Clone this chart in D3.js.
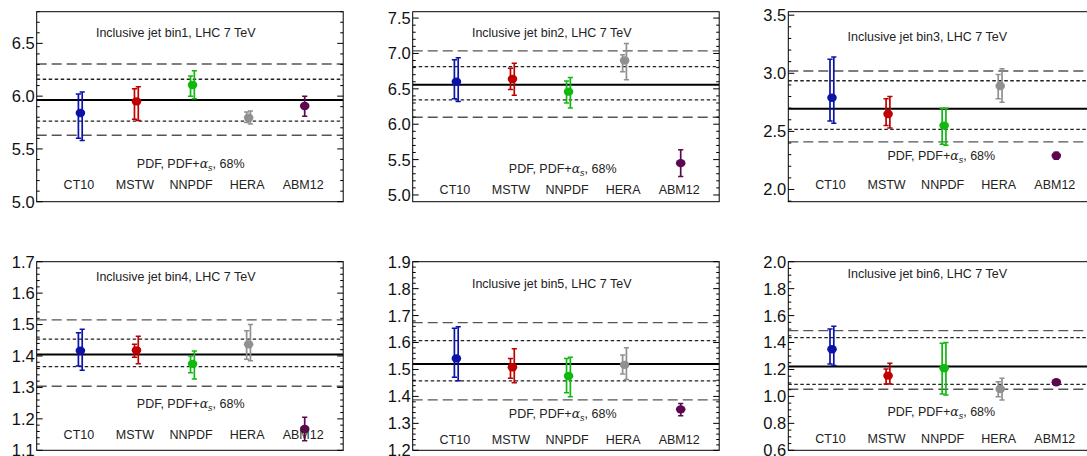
<!DOCTYPE html>
<html><head><meta charset="utf-8">
<script src="https://cdn.jsdelivr.net/npm/d3@7"></script>
<style>
html,body{margin:0;padding:0;background:#fff;}
svg{display:block;font-family:"Liberation Sans",Arial,Helvetica,sans-serif;}
</style>
</head><body>
<svg id="chart" width="1087" height="456"></svg>
<script>
// ---------- data ----------
const categories = ["CT10", "MSTW", "NNPDF", "HERA", "ABM12"];
const binTitles = ["Inclusive jet bin1, LHC 7 TeV", "Inclusive jet bin2, LHC 7 TeV", "Inclusive jet bin3, LHC 7 TeV",
                   "Inclusive jet bin4, LHC 7 TeV", "Inclusive jet bin5, LHC 7 TeV", "Inclusive jet bin6, LHC 7 TeV"];
const yDomains = [[5.0, 6.8], [4.905, 7.59], [1.895, 3.53], [1.1, 1.7], [1.2, 1.9], [0.6, 2.0]];
const majorStep = [0.5, 0.5, 0.5, 0.1, 0.1, 0.2];
const minorStep = [0.1, 0.1, 0.1, 0.02, 0.02, 0.05];

const centralLine = [5.963, 6.556, 2.695, 1.405, 1.520, 1.222];
const innerBandLo = [5.764, 6.344, 2.518, 1.366, 1.458, 1.090];
const innerBandHi = [6.160, 6.815, 2.936, 1.454, 1.607, 1.436];
const outerBandLo = [5.630, 6.099, 2.410, 1.304, 1.387, 1.053];
const outerBandHi = [6.304, 7.037, 3.020, 1.515, 1.674, 1.488];

const central = [
  [5.84, 5.95, 6.105, 5.795, 5.906],
  [6.60, 6.64, 6.46, 6.90, 5.45],
  [2.79, 2.65, 2.55, 2.89, 2.29],
  [1.417, 1.418, 1.375, 1.437, 1.168],
  [1.541, 1.508, 1.476, 1.517, 1.352],
  [1.35, 1.154, 1.209, 1.055, 1.105]
];
const pdfLo = [
  [5.60, 5.78, 6.00, 5.75, 5.81],
  [6.36, 6.49, 6.30, 6.74, 5.26],
  [2.59, 2.55, 2.39, 2.78, 2.26],
  [1.368, 1.396, 1.347, 1.39, 1.13],
  [1.471, 1.467, 1.414, 1.483, 1.328],
  [1.24, 1.092, 1.018, 0.998, 1.095]
];
const pdfHi = [
  [6.02, 6.07, 6.19, 5.85, 6.00],
  [6.91, 6.79, 6.61, 6.98, 5.64],
  [3.12, 2.78, 2.70, 2.99, 2.32],
  [1.474, 1.437, 1.40, 1.48, 1.205],
  [1.653, 1.541, 1.541, 1.554, 1.374],
  [1.50, 1.203, 1.394, 1.109, 1.115]
];
const pdfAsLo = [
  [5.58, 5.77, 5.975, 5.735, 5.81],
  [6.32, 6.41, 6.23, 6.63, 5.26],
  [2.57, 2.53, 2.38, 2.75, 2.26],
  [1.355, 1.375, 1.327, 1.385, 1.13],
  [1.458, 1.451, 1.399, 1.463, 1.328],
  [1.23, 1.092, 1.01, 0.973, 1.095]
];
const pdfAsHi = [
  [6.04, 6.09, 6.24, 5.86, 6.00],
  [6.94, 6.86, 6.66, 7.14, 5.64],
  [3.14, 2.80, 2.70, 3.04, 2.32],
  [1.485, 1.463, 1.416, 1.50, 1.205],
  [1.659, 1.577, 1.545, 1.581, 1.374],
  [1.52, 1.246, 1.40, 1.134, 1.115]
];
const colors = ["#0a12a8", "#c00000", "#10b810", "#909090", "#5c0850"];

// ---------- layout ----------
const colLeft = [36.7, 412.7, 788.3];
const rowTop = [11.7, 261.7];
const panelW = 306.5;
const panelH = [190, 188.6];
const titleDy = [21.3, 21.3, 25, 15, 21.6, 11.6];
const noteDy = [38.4, 33.4, 46, 46.3, 37, 38.6];
const noteDx = [154, 150, 153, 154, 150, 153];
const catDy = [16.7, 11.7, 16.7, 15.3, 10.3, 12];

const svg = d3.select("#chart");

binTitles.forEach((title, p) => {
  const row = Math.floor(p / 3), col = p % 3;
  const W = panelW, H = panelH[row];
  const g = svg.append("g").attr("transform", `translate(${colLeft[col]},${rowTop[row]})`);
  const clipId = "clip" + p;
  g.append("clipPath").attr("id", clipId).append("rect").attr("width", W).attr("height", H);

  const y = d3.scaleLinear().domain(yDomains[p]).range([H, 0]);
  const x = d3.scalePoint().domain(categories).range([43.7, 268]);

  const plot = g.append("g").attr("clip-path", `url(#${clipId})`);

  // bands
  const hline = (v, dash, color, w) => plot.append("line")
      .attr("x1", 0).attr("x2", W).attr("y1", y(v)).attr("y2", y(v))
      .attr("stroke", color).attr("stroke-width", w).attr("stroke-dasharray", dash);
  hline(outerBandHi[p], "10,5", "#555", 1.4);
  hline(outerBandLo[p], "10,5", "#555", 1.4);
  hline(innerBandHi[p], "3.5,2.5", "#222", 1.3);
  hline(innerBandLo[p], "3.5,2.5", "#222", 1.3);
  hline(centralLine[p], null, "#000", 2);

  // texts
  g.append("text").attr("x", 139).attr("y", titleDy[p]).attr("dy", "0.35em")
    .attr("text-anchor", "middle").attr("font-size", 12.5).attr("fill", "#222").text(title);
  const note = g.append("text").attr("x", noteDx[p]).attr("y", H - noteDy[p]).attr("dy", "0.35em")
    .attr("text-anchor", "middle").attr("font-size", 12.5).attr("fill", "#222");
  note.append("tspan").text("PDF, PDF+");
  note.append("tspan").attr("font-style", "italic").attr("font-family", "DejaVu Serif, serif").text("α");
  note.append("tspan").attr("font-style", "italic").attr("font-size", 9).attr("dy", "3").text("s");
  note.append("tspan").attr("dy", "-3").text(", 68%");

  g.selectAll(".cat").data(categories).join("text")
    .attr("x", d => x(d) - 1.5).attr("y", H - catDy[p]).attr("dy", "0.35em")
    .attr("text-anchor", "middle").attr("font-size", 12.5).attr("fill", "#222").text(d => d);

  // error bars
  const bar = (gx, lo, hi, c) => {
    plot.append("line").attr("x1", gx).attr("x2", gx).attr("y1", y(lo)).attr("y2", y(hi))
      .attr("stroke", c).attr("stroke-width", 1.7);
    [lo, hi].forEach(v => plot.append("line").attr("x1", gx - 2.6).attr("x2", gx + 2.6)
      .attr("y1", y(v)).attr("y2", y(v)).attr("stroke", c).attr("stroke-width", 1.5));
  };
  categories.forEach((c, i) => {
    const cx = x(c);
    const same = pdfLo[p][i] === pdfAsLo[p][i] && pdfHi[p][i] === pdfAsHi[p][i];
    if (same) {
      bar(cx, pdfLo[p][i], pdfHi[p][i], colors[i]);
    } else {
      bar(cx - 2, pdfLo[p][i], pdfHi[p][i], colors[i]);
      bar(cx + 1.8, pdfAsLo[p][i], pdfAsHi[p][i], colors[i]);
    }
    plot.append("ellipse").attr("cx", cx).attr("cy", y(central[p][i]))
      .attr("rx", 4.8).attr("ry", 4.2).attr("fill", colors[i]);
  });

  // frame
  g.append("rect").attr("width", W).attr("height", H).attr("fill", "none")
    .attr("stroke", "#000").attr("stroke-width", 1);

  // ticks (inward, both sides)
  const d = yDomains[p];
  const nMinor = Math.round((d[1] - d[0]) / minorStep[p]) + 2;
  const start = Math.ceil(d[0] / minorStep[p] - 1e-6);
  const minorVals = d3.range(start, start + nMinor).map(k => +(k * minorStep[p]).toFixed(4))
    .filter(v => v >= d[0] - 1e-9 && v <= d[1] + 1e-9);
  const isMajor = v => Math.abs(v / majorStep[p] - Math.round(v / majorStep[p])) < 1e-4;
  minorVals.forEach(v => {
    const len = isMajor(v) ? 6 : 3;
    g.append("line").attr("x1", 0).attr("x2", len).attr("y1", y(v)).attr("y2", y(v))
      .attr("stroke", "#000").attr("stroke-width", 1);
    g.append("line").attr("x1", W).attr("x2", W - len).attr("y1", y(v)).attr("y2", y(v))
      .attr("stroke", "#000").attr("stroke-width", 1);
  });
  const majorVals = minorVals.filter(isMajor);
  g.selectAll(".tl").data(majorVals).join("text")
    .attr("x", -2).attr("y", v => y(v)).attr("dy", "0.36em")
    .attr("text-anchor", "end").attr("font-size", 16.5).attr("fill", "#111")
    .text(v => d3.format(".1f")(v));
});
</script>
</body></html>
